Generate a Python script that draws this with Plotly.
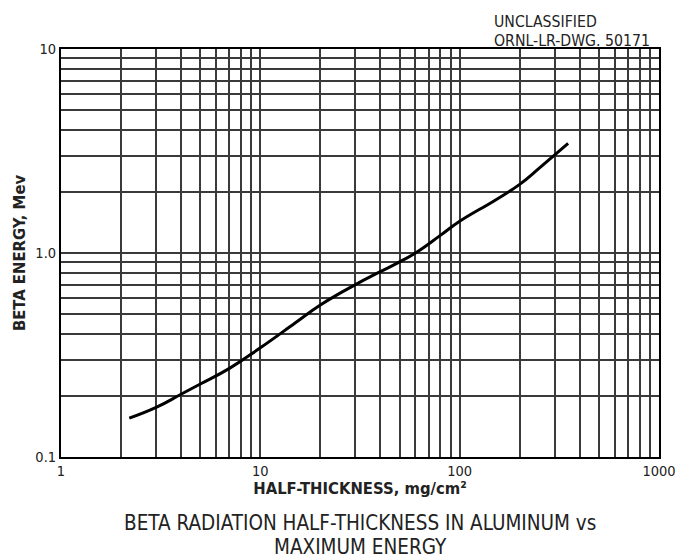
import plotly.graph_objects as go

# Data
half_thickness = [2.2, 3, 4, 5, 7, 10, 15, 20, 30, 40, 50, 60, 80, 100, 150, 200, 250, 300, 350]
beta_energy = [0.155, 0.175, 0.203, 0.228, 0.272, 0.343, 0.455, 0.556, 0.70, 0.81, 0.905, 1.0, 1.22, 1.43, 1.81, 2.17, 2.6, 3.03, 3.45]

x_tick_vals = [1, 10, 100, 1000]
x_tick_text = ["1", "10", "100", "1000"]
y_tick_vals = [0.1, 1, 10]
y_tick_text = ["0.1", "1.0", "10"]
x_minor = [m * d for d in (1, 10, 100) for m in range(2, 10)]
y_minor = [m * d for d in (0.1, 1) for m in range(2, 10)]

FONT = "DejaVu Sans Condensed, DejaVu Sans, sans-serif"
GRID = "#3a3a3a"
TXT = "#222"

fig = go.Figure()
fig.add_trace(go.Scatter(
    x=half_thickness, y=beta_energy, mode="lines",
    line=dict(color="black", width=3, shape="spline", smoothing=1.3),
    showlegend=False, hoverinfo="skip",
))

axis_common = dict(
    type="log", showline=True, mirror=True, linecolor="black", linewidth=2,
    showgrid=True, gridcolor=GRID, gridwidth=1.5, ticks="", zeroline=False,
    tickfont=dict(family=FONT, size=14.5, color=TXT),
    ticklabeloverflow="allow", automargin=False,
)

fig.update_xaxes(
    **axis_common,
    range=[0, 3], tickvals=x_tick_vals, ticktext=x_tick_text,
    minor=dict(tickvals=x_minor, showgrid=True, gridcolor=GRID, gridwidth=1.5, ticks=""),
    title=dict(text="<b>HALF-THICKNESS, mg/cm²</b>", font=dict(family=FONT, size=16.5, color=TXT), standoff=2),
)
fig.update_yaxes(
    **axis_common,
    range=[-1, 1], tickvals=y_tick_vals, ticktext=y_tick_text,
    minor=dict(tickvals=y_minor, showgrid=True, gridcolor=GRID, gridwidth=1.5, ticks=""),
    title=dict(text="<b>BETA ENERGY, Mev</b>", font=dict(family=FONT, size=16.5, color=TXT), standoff=6),
)

for txt, yp in (("UNCLASSIFIED", 1.068), ("ORNL-LR-DWG. 50171", 1.021)):
    fig.add_annotation(
        text=txt, xref="paper", yref="paper", x=0.72, y=yp,
        xanchor="left", yanchor="middle", showarrow=False,
        font=dict(family=FONT, size=15.7, color=TXT),
    )
for txt, yp in (("BETA RADIATION HALF-THICKNESS IN ALUMINUM vs", -0.162),
                ("MAXIMUM ENERGY", -0.220)):
    fig.add_annotation(
        text=txt, xref="paper", yref="paper", x=0.5, y=yp,
        xanchor="center", yanchor="middle", showarrow=False,
        font=dict(family=FONT, size=20.5, color=TXT),
    )

fig.update_layout(
    width=675, height=558,
    margin=dict(l=61, r=16, t=49, b=101, autoexpand=False),
    paper_bgcolor="white", plot_bgcolor="white",
)

fig.write_html("out.html")
